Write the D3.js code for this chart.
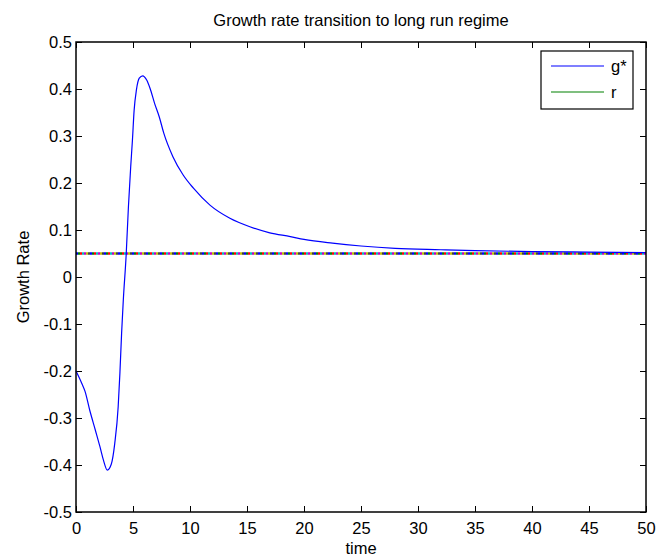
<!DOCTYPE html>
<html>
<head>
<meta charset="utf-8">
<script src="https://cdn.jsdelivr.net/npm/d3@7"></script>
<style>
html,body{margin:0;padding:0;background:#fff;}
svg{display:block;font-family:"Liberation Sans",Arial,Helvetica,sans-serif;}
</style>
</head>
<body>
<svg id="chart" width="669" height="559"></svg>
<script>
// ---- data ----
const title = "Growth rate transition to long run regime";
const xLabel = "time";
const yLabel = "Growth Rate";
const xTicks = [0,5,10,15,20,25,30,35,40,45,50];
const yTicks = [-0.5,-0.4,-0.3,-0.2,-0.1,0,0.1,0.2,0.3,0.4,0.5];
const yTickLabels = ["-0.5","-0.4","-0.3","-0.2","-0.1","0","0.1","0.2","0.3","0.4","0.5"];
const time = [0,0.5,0.8,1.2,1.7,2.1,2.4,2.75,3.1,3.4,3.7,3.85,4.0,4.15,4.4,4.6,4.8,4.95,5.1,5.3,5.55,5.85,6.2,6.5,6.9,7.3,7.7,8.5,9.4,10.3,11.75,13.5,15.25,17,18.8,20,22.5,25,28,32,35,40,45,50];
const gStar = [-0.2,-0.226,-0.244,-0.283,-0.326,-0.361,-0.389,-0.411,-0.398,-0.354,-0.276,-0.205,-0.12,-0.049,0.047,0.150,0.235,0.291,0.355,0.398,0.423,0.428,0.419,0.401,0.369,0.341,0.306,0.256,0.217,0.189,0.153,0.125,0.107,0.094,0.086,0.080,0.072,0.066,0.061,0.058,0.056,0.054,0.053,0.052];
const rTime = [0,50];
const rValue = [0.05,0.05];
const seriesNames = ["g*","r"];
const seriesColors = ["#0000ff","#008000"];
const rOverlayColors = ["#0000ff","#008000","#ff0000","#00bfbf","#bf00bf","#bfbf00","#404040"];

// ---- layout ----
const svg = d3.select("#chart");
const L = 76, R = 646, T = 42, B = 512;
const fs = 16.5;
const x = d3.scaleLinear().domain([0,50]).range([L,R]);
const y = d3.scaleLinear().domain([-0.5,0.5]).range([B,T]);

// axes
const axB = svg.append("g").attr("transform",`translate(0,${B})`)
  .call(d3.axisBottom(x).tickValues(xTicks).tickSizeInner(-6).tickSizeOuter(0).tickPadding(10).tickFormat(d3.format("d")));
const axT = svg.append("g").attr("transform",`translate(0,${T})`)
  .call(d3.axisTop(x).tickValues(xTicks).tickSizeInner(-6).tickSizeOuter(0).tickFormat(""));
const axL = svg.append("g").attr("transform",`translate(${L},0)`)
  .call(d3.axisLeft(y).tickValues(yTicks).tickSizeInner(-6).tickSizeOuter(0).tickPadding(4).tickFormat((d,i)=>yTickLabels[i]));
const axR = svg.append("g").attr("transform",`translate(${R},0)`)
  .call(d3.axisRight(y).tickValues(yTicks).tickSizeInner(-6).tickSizeOuter(0).tickFormat(""));
[axB,axT,axL,axR].forEach(a=>{
  a.select(".domain").remove();
  a.selectAll(".tick line").attr("stroke","#000").attr("stroke-width",1);
  a.selectAll("text").attr("fill","#000").style("font-size",fs+"px").style("font-family","'Liberation Sans',Arial,sans-serif");
});
axL.selectAll("text").attr("dy","0.35em");

// r line (multicolored overlay)
const rData = rTime.map((t,i)=>({t, v:rValue[i]}));
const lineR = d3.line().x(d=>x(d.t)).y(d=>y(d.v));
rOverlayColors.forEach((c,i)=>{
  svg.append("path").datum(rData).attr("d",lineR).attr("fill","none")
    .attr("stroke",c).attr("stroke-width",2.5)
    .attr("stroke-dasharray","2 12").attr("stroke-dashoffset",-2*i);
});

// g* line
const gData = time.map((t,i)=>({t, v:gStar[i]}));
const lineG = d3.line().x(d=>x(d.t)).y(d=>y(d.v)).curve(d3.curveMonotoneX);
svg.append("path").datum(gData).attr("d",lineG).attr("fill","none")
  .attr("stroke",seriesColors[0]).attr("stroke-width",1.2);

// box
svg.append("rect").attr("x",L).attr("y",T).attr("width",R-L).attr("height",B-T)
  .attr("fill","none").attr("stroke","#000").attr("stroke-width",1.5);

// title & labels
svg.append("text").attr("x",(L+R)/2).attr("y",26).attr("text-anchor","middle")
  .style("font-size",fs+"px").text(title);
svg.append("text").attr("x",(L+R)/2).attr("y",554).attr("text-anchor","middle")
  .style("font-size",fs+"px").text(xLabel);
svg.append("text").attr("transform",`translate(29,${(T+B)/2}) rotate(-90)`).attr("text-anchor","middle")
  .style("font-size",fs+"px").text(yLabel);

// legend
const lg = svg.append("g");
lg.append("rect").attr("x",541).attr("y",51).attr("width",92).attr("height",58)
  .attr("fill","#fff").attr("stroke","#000").attr("stroke-width",1.2);
seriesNames.forEach((n,i)=>{
  const yy = 66 + i*26;
  lg.append("line").attr("x1",551).attr("x2",604).attr("y1",yy).attr("y2",yy)
    .attr("stroke",seriesColors[i]).attr("stroke-width",1.2);
  lg.append("text").attr("x",611).attr("y",yy).attr("dy","0.35em")
    .style("font-size",fs+"px").text(n);
});
</script>
</body>
</html>
